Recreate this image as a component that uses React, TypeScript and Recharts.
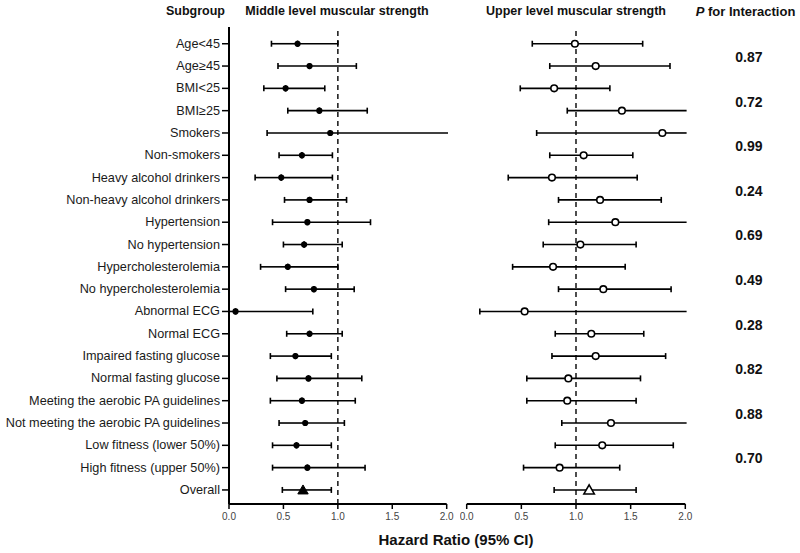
import React from 'react';
import { ScatterChart, Scatter, XAxis, YAxis, ErrorBar, ReferenceLine } from 'recharts';

// ---- Data ----
const subgroups = [
  'Age<45', 'Age≥45', 'BMI<25', 'BMI≥25', 'Smokers', 'Non-smokers',
  'Heavy alcohol drinkers', 'Non-heavy alcohol drinkers', 'Hypertension', 'No hypertension',
  'Hypercholesterolemia', 'No hypercholesterolemia', 'Abnormal ECG', 'Normal ECG',
  'Impaired fasting glucose', 'Normal fasting glucose', 'Meeting the aerobic PA guidelines',
  'Not meeting the aerobic PA guidelines', 'Low fitness (lower 50%)', 'High fitness (upper 50%)',
  'Overall',
];

// Middle level muscular strength: HR and 95% CI
const middleHR = [0.63, 0.74, 0.52, 0.83, 0.93, 0.67, 0.48, 0.74, 0.72, 0.69, 0.54, 0.78, 0.06, 0.74, 0.61, 0.73, 0.67, 0.70, 0.62, 0.72, 0.68];
const middleLow = [0.39, 0.45, 0.32, 0.54, 0.35, 0.46, 0.24, 0.51, 0.40, 0.50, 0.29, 0.52, 0.00, 0.53, 0.38, 0.44, 0.38, 0.46, 0.40, 0.40, 0.49];
// values above 2.0 run off the axis in the figure (estimated)
const middleHigh = [1.00, 1.17, 0.88, 1.27, 2.20, 0.95, 0.95, 1.08, 1.30, 1.04, 1.00, 1.15, 0.77, 1.04, 0.94, 1.22, 1.16, 1.06, 0.94, 1.25, 0.94];

// Upper level muscular strength: HR and 95% CI
const upperHR = [0.99, 1.18, 0.80, 1.42, 1.79, 1.07, 0.78, 1.22, 1.36, 1.04, 0.79, 1.25, 0.53, 1.14, 1.18, 0.93, 0.92, 1.32, 1.24, 0.85, 1.12];
const upperLow = [0.60, 0.76, 0.49, 0.92, 0.64, 0.76, 0.38, 0.84, 0.75, 0.70, 0.42, 0.84, 0.12, 0.81, 0.78, 0.55, 0.55, 0.87, 0.81, 0.52, 0.80];
const upperHigh = [1.61, 1.86, 1.31, 2.20, 2.40, 1.52, 1.56, 1.78, 2.20, 1.55, 1.45, 1.87, 2.60, 1.62, 1.82, 1.59, 1.55, 2.20, 1.89, 1.40, 1.55];

const pValues = ['0.87', '0.72', '0.99', '0.24', '0.69', '0.49', '0.28', '0.82', '0.88', '0.70'];

const xTicks = [0, 0.5, 1, 1.5, 2];
const X_MAX = 2;

// ---- Derived tables ----
// Lower arm: low -> hr (cap at low). Upper arm: hr -> high, capped only when inside the axis,
// otherwise drawn open to the axis end.
const build = (hr: number[], lo: number[], hi: number[]) =>
  hr.map((v, i) => {
    const inside = hi[i] <= X_MAX;
    return {
      row: i,
      hr: v,
      lowErr: [v - lo[i], 0],
      highCapped: [0, inside ? hi[i] - v : 0],
      highOpen: [0, inside ? 0 : X_MAX - v + 0.012],
    };
  });

const middleAll = build(middleHR, middleLow, middleHigh);
const upperAll = build(upperHR, upperLow, upperHigh);
const overallIdx = subgroups.length - 1;
const middleSub = middleAll.filter((d) => d.row !== overallIdx);
const middleOverall = middleAll.filter((d) => d.row === overallIdx);
const upperSub = upperAll.filter((d) => d.row !== overallIdx);
const upperOverall = upperAll.filter((d) => d.row === overallIdx);

const rowTicks = subgroups.map((_, i) => i);
const pTicks = pValues.map((_, k) => 2 * k + 0.5);
const Y_DOMAIN: [number, number] = [-0.75, 20.63];

const FONT = '"Liberation Sans", Arial, Helvetica, sans-serif';

// ---- Marker shapes ----
const FilledDot = (p: any) => <circle cx={p.cx} cy={p.cy} r={3.1} fill="#000" />;
const OpenDot = (p: any) => (
  <circle cx={p.cx} cy={p.cy} r={3.3} fill="#fff" stroke="#000" strokeWidth={1.6} />
);
const makeTri = (filled: boolean) => (p: any) => (
  <polygon
    points={`${p.cx},${p.cy - 5} ${p.cx - 5.2},${p.cy + 4} ${p.cx + 5.2},${p.cy + 4}`}
    fill={filled ? '#000' : '#fff'}
    stroke="#000"
    strokeWidth={filled ? 1 : 1.6}
  />
);

const RowTick = (p: any) => (
  <text
    x={p.x}
    y={p.y}
    textAnchor="end"
    dominantBaseline="central"
    fontSize={12.7}
    fill="#1a1a1a"
    fontFamily={FONT}
  >
    {subgroups[p.payload.value]}
  </text>
);

const PTick = (p: any) => (
  <text
    x={p.x}
    y={p.y + 2}
    textAnchor="start"
    dominantBaseline="central"
    fontSize={14}
    fontWeight="bold"
    fill="#111"
    fontFamily={FONT}
  >
    {pValues[Math.round((p.payload.value - 0.5) / 2)]}
  </text>
);

const axisLineStyle = { stroke: '#000', strokeWidth: 2 };
const tickLineStyle = { stroke: '#000', strokeWidth: 1.5 };

const bars = () => [
  <ErrorBar key="lo" dataKey="lowErr" direction="x" width={3} stroke="#000" strokeWidth={1.6} />,
  <ErrorBar key="hc" dataKey="highCapped" direction="x" width={3} stroke="#000" strokeWidth={1.6} />,
  <ErrorBar key="ho" dataKey="highOpen" direction="x" width={0} stroke="#000" strokeWidth={1.6} />,
];

function Panel({ sub, overall, open, left, width, margin }: any) {
  return (
    <div style={{ position: 'absolute', left, top: 0 }}>
      <ScatterChart width={width} height={553} margin={margin}>
        <XAxis
          type="number"
          dataKey="hr"
          domain={[0, X_MAX]}
          allowDataOverflow
          ticks={xTicks}
          tickFormatter={(v: number) => v.toFixed(1)}
          tick={{ fontSize: 10, fill: '#444', fontFamily: FONT }}
          tickSize={5}
          tickMargin={4}
          axisLine={axisLineStyle}
          tickLine={tickLineStyle}
          height={30}
          interval={0}
        />
        {open ? (
          <YAxis type="number" dataKey="row" domain={Y_DOMAIN} allowDataOverflow reversed hide />
        ) : (
          <YAxis
            type="number"
            dataKey="row"
            domain={Y_DOMAIN}
            allowDataOverflow
            reversed
            ticks={rowTicks}
            interval={0}
            width={229}
            tick={RowTick}
            tickSize={7}
            tickMargin={2}
            axisLine={axisLineStyle}
            tickLine={tickLineStyle}
          />
        )}
        {open && (
          <YAxis
            yAxisId="p"
            orientation="right"
            type="number"
            domain={Y_DOMAIN}
            allowDataOverflow
            reversed
            ticks={pTicks}
            interval={0}
            width={100}
            tick={PTick}
            tickSize={0}
            tickMargin={50}
            axisLine={false}
            tickLine={false}
          />
        )}
        <ReferenceLine x={1} stroke="#222" strokeWidth={1.6} strokeDasharray="5 4" />
        <Scatter data={sub} isAnimationActive={false} shape={open ? OpenDot : FilledDot}>
          {bars()}
        </Scatter>
        <Scatter data={overall} isAnimationActive={false} shape={makeTri(!open)}>
          {bars()}
        </Scatter>
      </ScatterChart>
    </div>
  );
}

const titleStyle = (cx: number, top: number, size: number): React.CSSProperties => ({
  position: 'absolute',
  left: cx,
  top,
  transform: 'translateX(-50%)',
  fontSize: size,
  lineHeight: `${size + 3}px`,
  fontWeight: 'bold',
  whiteSpace: 'nowrap',
  color: '#111',
  fontFamily: FONT,
});

export default function App() {
  return (
    <div
      style={{
        position: 'absolute',
        left: 0,
        top: 0,
        width: 800,
        height: 553,
        background: '#fff',
        fontFamily: FONT,
        overflow: 'hidden',
      }}
    >
      <Panel
        sub={middleSub}
        overall={middleOverall}
        open={false}
        left={0}
        width={460}
        margin={{ top: 27, right: 13.3, bottom: 19, left: 0 }}
      />
      <Panel
        sub={upperSub}
        overall={upperOverall}
        open={true}
        left={460}
        width={340}
        margin={{ top: 27, right: 14.7, bottom: 19, left: 6.7 }}
      />
      <div style={titleStyle(195.5, 4, 12.5)}>Subgroup</div>
      <div style={titleStyle(337, 4, 12.5)}>Middle level muscular strength</div>
      <div style={titleStyle(576, 4, 12.5)}>Upper level muscular strength</div>
      <div style={titleStyle(745.5, 4, 13)}>
        <i>P</i> for Interaction
      </div>
      <div style={titleStyle(456, 531, 15)}>Hazard Ratio (95% CI)</div>
    </div>
  );
}
